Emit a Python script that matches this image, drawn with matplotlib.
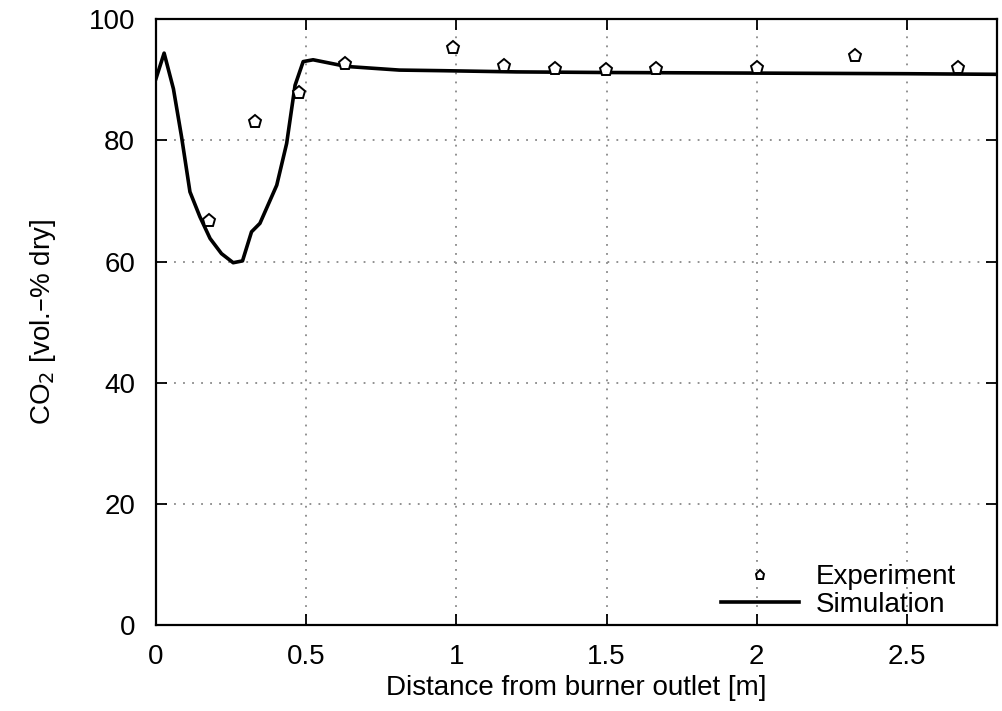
import matplotlib
matplotlib.use("Agg")
import matplotlib.pyplot as plt

plt.rcParams['font.family'] = ['Liberation Sans', 'DejaVu Sans']

sim_x = [0.0, 0.027, 0.058, 0.085, 0.113, 0.146, 0.18, 0.218, 0.257, 0.288, 0.318,
         0.346, 0.402, 0.435, 0.463, 0.49, 0.523, 0.634, 0.81, 0.955, 1.2, 1.5,
         2.0, 2.5, 2.8]
sim_y = [90.2, 94.4, 88.5, 80.6, 71.5, 67.4, 63.8, 61.3, 59.8, 60.1, 64.9,
         66.3, 72.6, 79.5, 89.1, 93.0, 93.3, 92.2, 91.6, 91.5, 91.3, 91.2,
         91.1, 91.0, 90.9]

exp_x = [0.177, 0.33, 0.477, 0.63, 0.988, 1.158, 1.328, 1.498, 1.665, 2.0, 2.327, 2.67]
exp_y = [66.7, 83.0, 87.8, 92.6, 95.2, 92.2, 91.7, 91.6, 91.7, 91.9, 93.9, 91.9]

xticks = [0, 0.5, 1, 1.5, 2, 2.5]
xticklabels = ['0', '0.5', '1', '1.5', '2', '2.5']
yticks = [0, 20, 40, 60, 80, 100]

FS = 20

fig = plt.figure(figsize=(10.02, 7.11), dpi=100)
ax = fig.add_axes([0.1557, 0.121, 0.8393, 0.852])

ax.plot(exp_x, exp_y, linestyle='none', marker='p', markersize=9.5,
        markerfacecolor='white', markeredgecolor='black', markeredgewidth=1.4,
        label='Experiment', zorder=3)
ax.plot(sim_x, sim_y, color='black', linewidth=2.6, label='Simulation', zorder=2)

ax.set_xlim(0, 2.8)
ax.set_ylim(0, 100)
ax.set_xticks(xticks)
ax.set_xticklabels(xticklabels)
ax.set_yticks(yticks)
ax.grid(True, linestyle=(0, (1, 4)), color='#888888', linewidth=1.3)
ax.tick_params(direction='in', length=8, width=1.3, top=True, right=True,
               labelsize=FS)
ax.tick_params(axis='x', pad=14)
ax.tick_params(axis='y', pad=15)
for s in ax.spines.values():
    s.set_linewidth(1.6)

ax.set_xlabel('Distance from burner outlet [m]', fontsize=FS, labelpad=3)
ax.set_ylabel('CO$_2$ [vol.\u2013% dry]', fontsize=FS, labelpad=22)

leg = ax.legend(loc='lower right', bbox_to_anchor=(0.974, -0.02),
                frameon=False, fontsize=FS,
                handlelength=2.8, handletextpad=0.6, labelspacing=0.05,
                borderaxespad=0.3, markerscale=0.7)

fig.savefig('out.png', dpi=100)
